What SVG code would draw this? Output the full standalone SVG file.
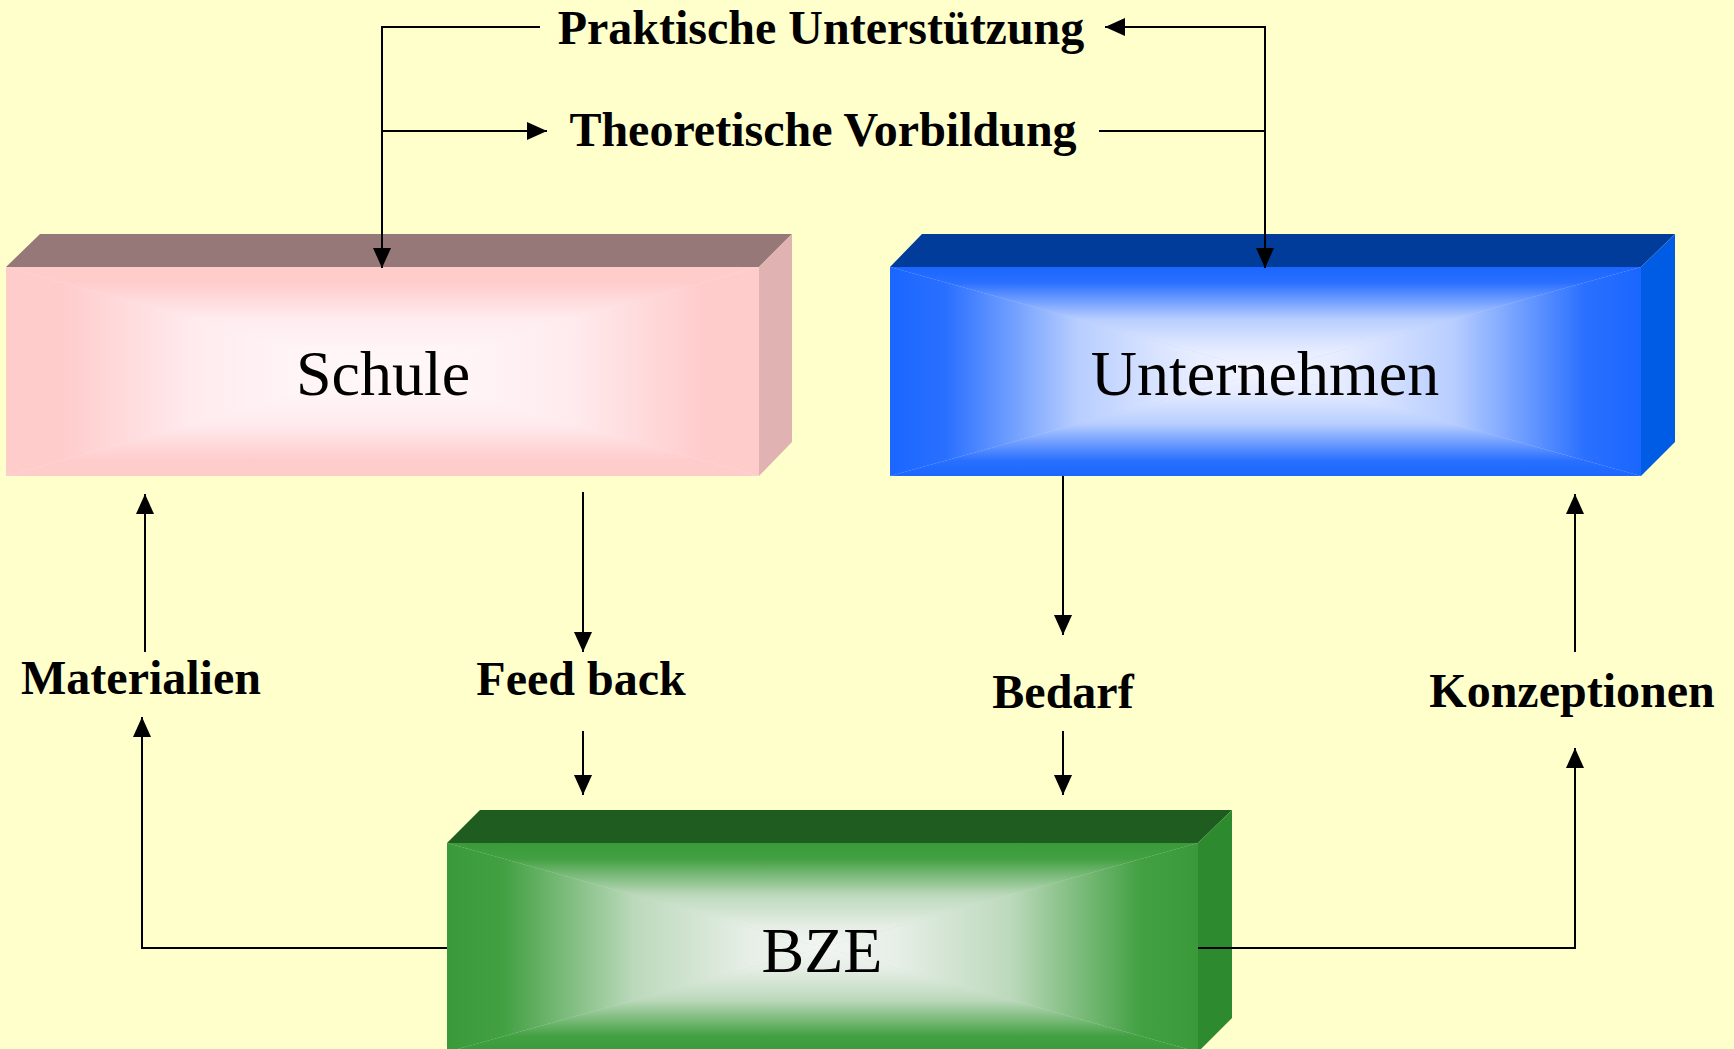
<svg xmlns="http://www.w3.org/2000/svg" width="1734" height="1049" viewBox="0 0 1734 1049">
<style>
.conn{fill:none;stroke:#000;stroke-width:2}
.arr{marker-end:url(#ah)}
.lbl{font-family:"Liberation Serif","Times New Roman",serif;font-weight:bold;font-size:48px;fill:#000;text-anchor:middle}
.box{font-family:"Liberation Serif","Times New Roman",serif;font-size:64px;fill:#000;text-anchor:middle}
</style>
<defs>
<marker id="ah" markerUnits="userSpaceOnUse" markerWidth="20" markerHeight="18" refX="20" refY="9" orient="auto" viewBox="0 0 20 18">
<path d="M0,0 L20,9 L0,18 z" fill="#000"/>
</marker>
<linearGradient id="sS"><stop offset="0" stop-color="#FFCCCC"/><stop offset="0.15" stop-color="#FFCCCC"/><stop offset="0.5" stop-color="#FFEBEE"/><stop offset="0.8" stop-color="#FFF5F7"/><stop offset="1" stop-color="#FFF8F9"/></linearGradient>
<linearGradient id="sT" href="#sS" x1="0" y1="0" x2="0" y2="1"/>
<linearGradient id="sB" href="#sS" x1="0" y1="1" x2="0" y2="0"/>
<linearGradient id="sL" href="#sS" x1="0" y1="0" x2="1" y2="0"/>
<linearGradient id="sR" href="#sS" x1="1" y1="0" x2="0" y2="0"/>
<linearGradient id="uS"><stop offset="0" stop-color="#1A66FF"/><stop offset="0.15" stop-color="#2A70FF"/><stop offset="0.5" stop-color="#B8CEFF"/><stop offset="0.8" stop-color="#E6ECFF"/><stop offset="1" stop-color="#F4F6FF"/></linearGradient>
<linearGradient id="uT" href="#uS" x1="0" y1="0" x2="0" y2="1"/>
<linearGradient id="uB" href="#uS" x1="0" y1="1" x2="0" y2="0"/>
<linearGradient id="uL" href="#uS" x1="0" y1="0" x2="1" y2="0"/>
<linearGradient id="uR" href="#uS" x1="1" y1="0" x2="0" y2="0"/>
<linearGradient id="gS"><stop offset="0" stop-color="#3A9A3A"/><stop offset="0.15" stop-color="#42A042"/><stop offset="0.5" stop-color="#BCD9BC"/><stop offset="0.8" stop-color="#E6EEE6"/><stop offset="1" stop-color="#F3F6F3"/></linearGradient>
<linearGradient id="gT" href="#gS" x1="0" y1="0" x2="0" y2="1"/>
<linearGradient id="gB" href="#gS" x1="0" y1="1" x2="0" y2="0"/>
<linearGradient id="gL" href="#gS" x1="0" y1="0" x2="1" y2="0"/>
<linearGradient id="gR" href="#gS" x1="1" y1="0" x2="0" y2="0"/>
</defs>
<rect width="1734" height="1049" fill="#FFFFCC"/>

<g id="node-schule">
<polygon points="6,267 40,234 792,234 759,267" fill="#977878"/>
<polygon points="759,267 792,234 792,442 759,476" fill="#E0B2B2"/>
<rect x="6" y="267" width="753" height="209" fill="#FFE6E8"/>
<polygon points="6,267 759,267 382.5,371.5" fill="url(#sT)"/>
<polygon points="6,476 759,476 382.5,371.5" fill="url(#sB)"/>
<polygon points="6,267 6,476 382.5,371.5" fill="url(#sL)"/>
<polygon points="759,267 759,476 382.5,371.5" fill="url(#sR)"/>
<text class="box" x="383" y="395">Schule</text>
</g>

<g id="node-unternehmen">
<polygon points="890,267 922,234 1675,234 1641,267" fill="#013C9A"/>
<polygon points="1641,267 1675,234 1675,442 1641,476" fill="#005CE4"/>
<rect x="890" y="267" width="751" height="209" fill="#BAD0FF"/>
<polygon points="890,267 1641,267 1265.5,371.5" fill="url(#uT)"/>
<polygon points="890,476 1641,476 1265.5,371.5" fill="url(#uB)"/>
<polygon points="890,267 890,476 1265.5,371.5" fill="url(#uL)"/>
<polygon points="1641,267 1641,476 1265.5,371.5" fill="url(#uR)"/>
<text class="box" x="1265" y="395">Unternehmen</text>
</g>

<g id="node-bze">
<polygon points="447,843 480,810 1232,810 1198,843" fill="#1E5C1F"/>
<polygon points="1198,843 1232,810 1232,1018 1198,1052" fill="#2E8A2E"/>
<rect x="447" y="843" width="751" height="209" fill="#C4E0C4"/>
<polygon points="447,843 1198,843 822.5,947.5" fill="url(#gT)"/>
<polygon points="447,1052 1198,1052 822.5,947.5" fill="url(#gB)"/>
<polygon points="447,843 447,1052 822.5,947.5" fill="url(#gL)"/>
<polygon points="1198,843 1198,1052 822.5,947.5" fill="url(#gR)"/>
<text class="box" x="822" y="972">BZE</text>
</g>

<g id="connectors">
<path class="conn arr" d="M540,27 H382 V268"/>
<path class="conn arr" d="M382,131 H547"/>
<path class="conn arr" d="M1265,131 V27 H1105"/>
<path class="conn arr" d="M1099,131 H1265 V268"/>
<path class="conn arr" d="M583,492 V652"/>
<path class="conn arr" d="M583,731 V795"/>
<path class="conn arr" d="M1063,476 V635"/>
<path class="conn arr" d="M1063,731 V795"/>
<path class="conn arr" d="M145,652 V494"/>
<path class="conn arr" d="M447,948 H142 V717"/>
<path class="conn arr" d="M1575,652 V494"/>
<path class="conn arr" d="M1198,948 H1575 V748"/>
</g>

<g id="labels">
<text class="lbl" x="821" y="44">Praktische Unterstützung</text>
<text class="lbl" x="823" y="146">Theoretische Vorbildung</text>
<text class="lbl" x="141" y="694">Materialien</text>
<text class="lbl" x="581" y="695">Feed back</text>
<text class="lbl" x="1063" y="708">Bedarf</text>
<text class="lbl" x="1572" y="707">Konzeptionen</text>
</g>
</svg>
